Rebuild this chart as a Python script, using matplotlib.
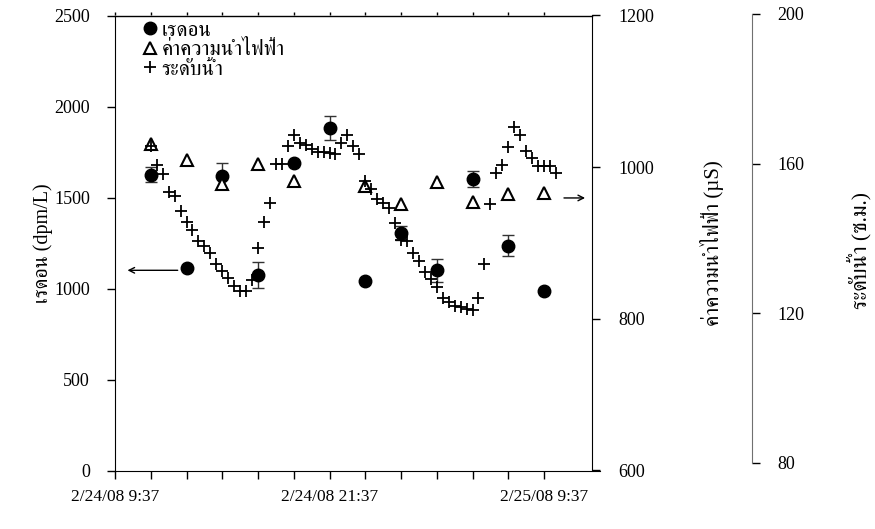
import matplotlib
matplotlib.use("Agg")
import matplotlib.pyplot as plt
from matplotlib import font_manager
from matplotlib.ft2font import FT2Font
from matplotlib.ticker import MultipleLocator, FixedLocator, NullFormatter

# find installed fonts that have Thai glyphs, prefer a serif one
def thai_fonts():
    names = []
    for f in font_manager.fontManager.ttflist:
        try:
            cm = FT2Font(f.fname).get_charmap()
        except Exception:
            continue
        if 0x0E40 in cm and 0x0E33 in cm:
            names.append(f.name)
    return sorted(set(names))

THAI = thai_fonts()
pref = [n for n in ["FreeSerif", "Noto Serif Thai", "Norasi", "Sarabun"] if n in THAI]
FAM = ["Liberation Serif"] + (pref[:1] if pref else THAI[:1]) + ["DejaVu Sans"]
plt.rcParams["font.family"] = FAM

# data (hours after 2/24/08 9:37)
t_radon = [2, 4, 6, 8, 10, 12, 14, 16, 18, 20, 22, 24]
radon = [1625, 1112, 1617, 1075, 1691, 1883, 1040, 1304, 1099, 1603, 1236, 989]
radon_err = [40, 0, 70, 70, 0, 65, 0, 40, 65, 45, 60, 0]

t_cond = [2, 4, 6, 8, 10, 14, 16, 18, 20, 22, 24]
cond = [1031, 1010, 978, 1004, 982, 975, 952, 981, 954, 965, 966]

level = [164.7, 159.6, 157.2, 152.5, 151.4, 147.3, 144.5, 142.1, 139.4, 138.0,
         136.2, 133.1, 131.3, 129.3, 127.3, 125.9, 125.9, 128.9, 137.3, 144.3,
         149.4, 159.8, 159.8, 164.7, 167.6, 165.6, 165.0, 163.9, 163.2, 163.2,
         162.7, 162.6, 165.5, 167.6, 164.6, 162.6, 155.3, 153.3, 150.5, 149.4,
         148.2, 144.2, 139.6, 139.2, 136.2, 134.0, 131.1, 129.1, 127.1, 124.0,
         123.0, 121.9, 121.7, 121.0, 120.8, 124.0, 133.1, 149.2, 157.6, 159.6,
         164.5, 169.7, 167.6, 163.4, 161.4, 159.3, 159.3, 159.3, 157.6]
level_start, level_step = 2.0, 1 / 3  # every 20 min
t_level = [level_start + i * level_step for i in range(len(level))]

xtick_pos = [0, 12, 24]
xtick_labels = ["2/24/08 9:37", "2/24/08 21:37", "2/25/08 9:37"]
xtick_minor = [0, 2, 4, 6, 8, 10, 12, 14, 16, 18, 20, 22, 24]

fig = plt.figure(figsize=(8.75, 5.29), dpi=100)
L, W = 115 / 875, 485 / 875
ax = fig.add_axes([L, 58.5 / 529, W, 455 / 529])
ax2 = ax.twinx()
ax3 = fig.add_axes([L, 66.3 / 529, W, 448.7 / 529], sharex=ax)
ax3.patch.set_visible(False)

XMAX, XR = 27.13, 26.67
ax.set_ylim(0, 2500)
ax2.set_ylim(600, 1200)
ax3.set_ylim(80, 200)

# radon
ax.errorbar(t_radon, radon, yerr=radon_err, fmt="none", ecolor="#333333",
            elinewidth=1, capsize=4, capthick=1, zorder=3)
h1, = ax.plot(t_radon, radon, "o", color="black", ms=9, zorder=4, ls="none")
# conductivity
h2, = ax2.plot(t_cond, cond, "^", mfc="white", mec="black", mew=1.5, ms=8.5, ls="none")
# water level
h3, = ax3.plot(t_level, level, "+", color="black", mew=1.3, ms=8, ls="none")

# spines
for s in ["top", "right"]:
    ax.spines[s].set_visible(False)
for s in ["left", "top", "bottom"]:
    ax2.spines[s].set_visible(False)
    ax3.spines[s].set_visible(False)
ax2.spines["right"].set_position(("data", XR))
ax3.spines["right"].set_position(("axes", (752.3 - 115) / 485))
ax3.spines["right"].set_color("#707070")
ax.plot([0, XR], [2500, 2500], color="black", lw=1, clip_on=False)

# x ticks: every 2 h, labels every 12 h
ax.set_xticks(xtick_pos, xtick_labels)
ax.xaxis.set_minor_locator(FixedLocator(xtick_minor))
ax.tick_params(axis="x", which="both", direction="out", length=6, width=1)
ax.tick_params(axis="x", which="major", pad=7, labelsize=12.5)
ax.set_xlim(0, XMAX)

# little tick marks on the top border
top = ax.secondary_xaxis("top")
top.xaxis.set_major_locator(FixedLocator(xtick_minor))
top.xaxis.set_major_formatter(NullFormatter())
top.tick_params(length=2.2, width=1, direction="out")
top.spines["top"].set_visible(False)

ax.yaxis.set_major_locator(MultipleLocator(500))
ax.tick_params(axis="y", direction="out", length=6, width=1, pad=12, labelsize=13)
ax2.yaxis.set_major_locator(MultipleLocator(200))
ax2.tick_params(axis="y", direction="out", length=6, width=1, pad=13, labelsize=13)
ax3.yaxis.set_ticks_position("right")
ax3.yaxis.set_major_locator(MultipleLocator(40))
ax3.tick_params(axis="y", direction="out", length=6, width=1, pad=12, labelsize=13)
ax3.tick_params(axis="x", which="both", bottom=False, labelbottom=False)

ax.set_ylabel("เรดอน (dpm/L)", fontsize=14.5)
ax.yaxis.set_label_coords(-0.128, 0.5)
ax2.set_ylabel("ค่าความนำไฟฟ้า (µS)", fontsize=15)
ax2.yaxis.set_label_coords(1.207, 0.5)
ax3.set_ylabel("ระดับน้ำ (ซ.ม.)", fontsize=15.5)
ax3.yaxis.set_label_position("right")
ax3.yaxis.set_label_coords(1.510, 0.474)

# arrows pointing to axes
ax.annotate("", xy=(0.02, 0.44), xytext=(0.135, 0.44), xycoords="axes fraction",
            arrowprops=dict(arrowstyle="->", lw=1, color="black"))
ax.annotate("", xy=(0.975, 0.599), xytext=(0.92, 0.599), xycoords="axes fraction",
            arrowprops=dict(arrowstyle="->", lw=1, color="black"))

ax3.legend([h1, h2, h3], ["เรดอน", "ค่าความนำไฟฟ้า", "ระดับน้ำ"], loc="upper left",
           bbox_to_anchor=(0.04, 1.003), frameon=False, fontsize=15,
           handlelength=0.7, handletextpad=0.2, labelspacing=0.0, borderaxespad=0)

fig.savefig("out.png", dpi=100)
